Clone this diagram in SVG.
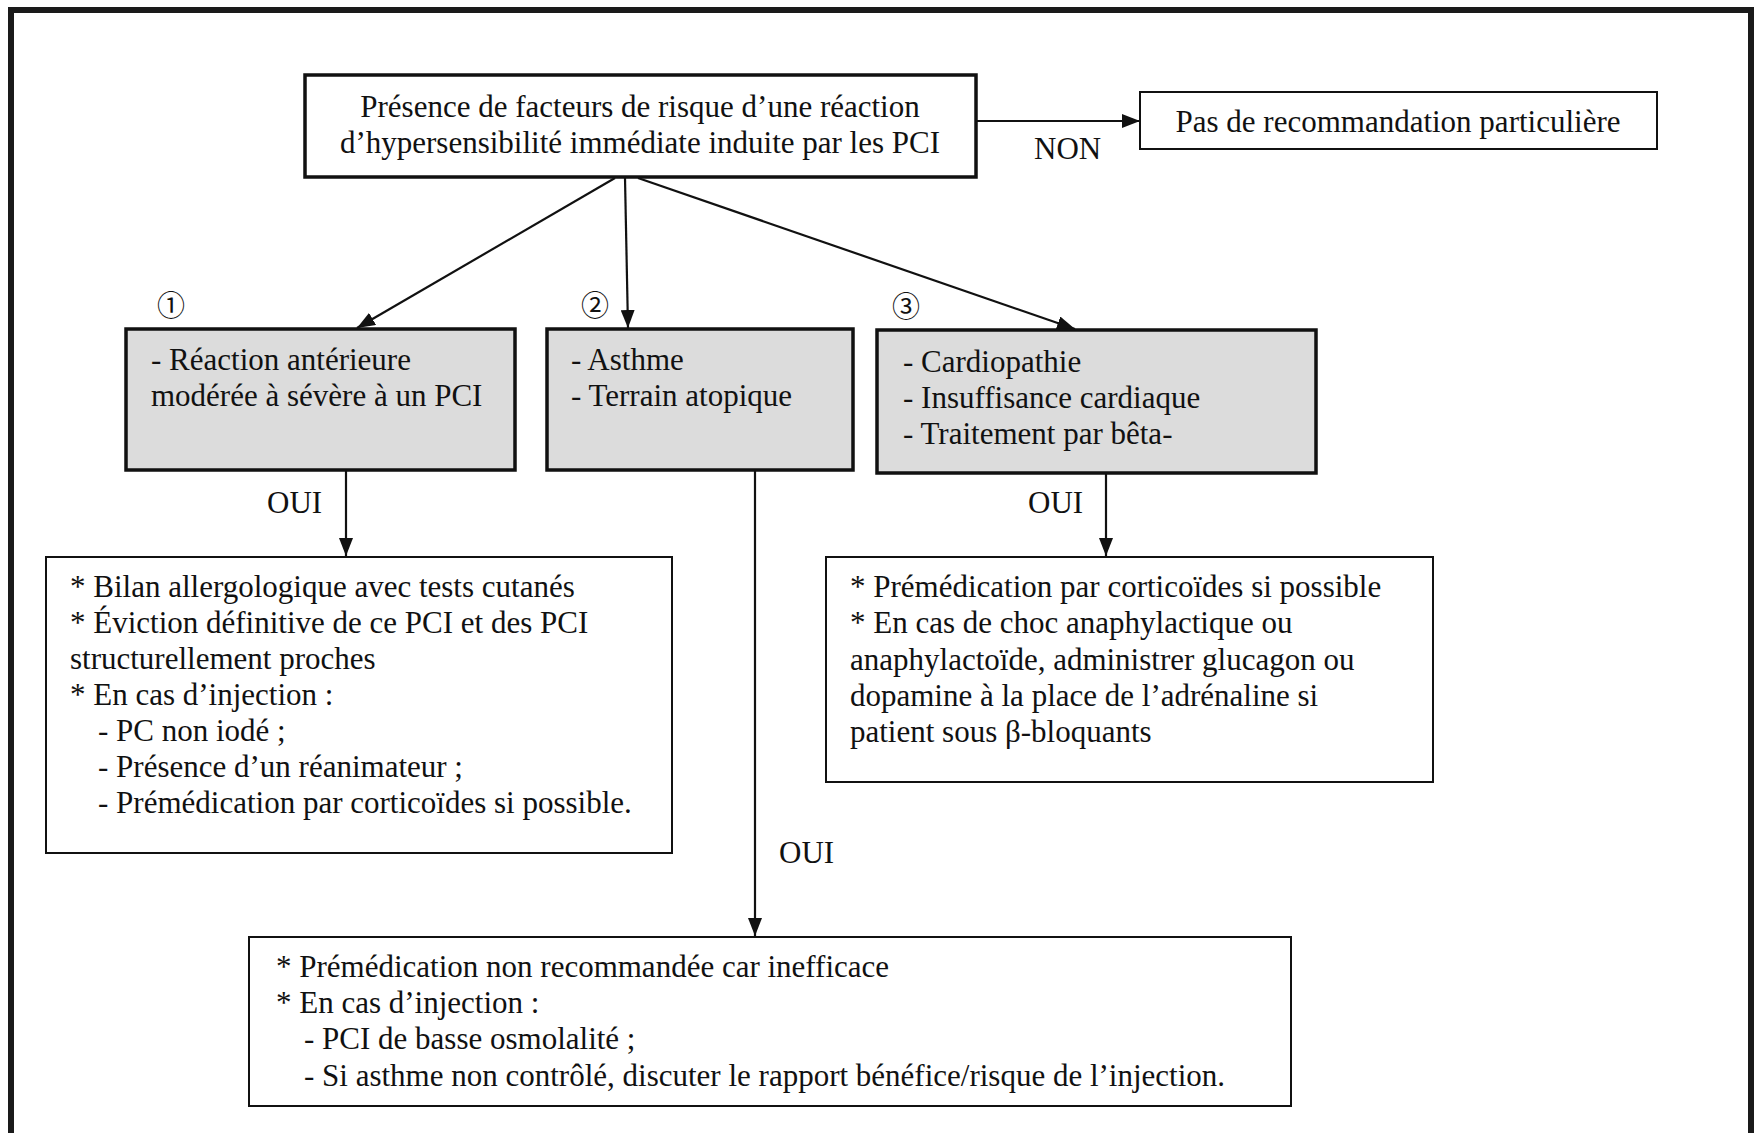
<svg xmlns="http://www.w3.org/2000/svg" width="1760" height="1133" viewBox="0 0 1760 1133">
<defs>
<style>
text{font-family:"Liberation Serif","Times New Roman",serif;font-size:31px;fill:#111}
.num{font-family:"Noto Sans CJK JP","DejaVu Sans",sans-serif;font-size:28px;text-anchor:middle}
.c{text-anchor:middle}
.thick{fill:#fff;stroke:#111;stroke-width:3.5}
.grey{fill:#dcdcdc;stroke:#111;stroke-width:3.5}
.thin{fill:#fff;stroke:#111;stroke-width:2}
.con line{stroke:#111;stroke-width:2.2;marker-end:url(#ah)}
</style>
<marker id="ah" viewBox="0 0 18 14" refX="18" refY="7" markerWidth="18" markerHeight="14" markerUnits="userSpaceOnUse" orient="auto">
<path d="M0,0 L18,7 L0,14 z" fill="#111"/>
</marker>
</defs>
<rect width="1760" height="1133" fill="#fff"/>
<rect x="11" y="10" width="1740" height="1150" fill="none" stroke="#1a1a1a" stroke-width="6"/>

<g class="con" id="connectors">
<line x1="976" y1="121" x2="1140" y2="121"/>
<line x1="615" y1="178" x2="357" y2="328"/>
<line x1="625" y1="178" x2="628" y2="328"/>
<line x1="638" y1="178" x2="1075" y2="329"/>
<line x1="346" y1="471" x2="346" y2="556"/>
<line x1="755" y1="471" x2="755" y2="936"/>
<line x1="1106" y1="474" x2="1106" y2="556"/>
</g>

<g id="labels">
<text x="1034" y="159">NON</text>
<text x="267" y="513">OUI</text>
<text x="1028" y="513">OUI</text>
<text x="779" y="863">OUI</text>
<text class="num" x="171" y="316">①</text>
<text class="num" x="595" y="316">②</text>
<text class="num" x="906" y="317">③</text>
</g>

<g id="top">
<rect class="thick" x="305" y="75" width="671" height="102"/>
<text class="c" x="640" y="117">Présence de facteurs de risque d’une réaction</text>
<text class="c" x="640" y="153">d’hypersensibilité immédiate induite par les PCI</text>
</g>

<g id="non">
<rect class="thin" x="1140" y="92" width="517" height="57"/>
<text class="c" x="1398" y="132">Pas de recommandation particulière</text>
</g>

<g id="b1">
<rect class="grey" x="126" y="329" width="389" height="141"/>
<text x="151" y="370">- Réaction antérieure</text>
<text x="151" y="406">modérée à sévère à un PCI</text>
</g>

<g id="b2">
<rect class="grey" x="547" y="329" width="306" height="141"/>
<text x="571" y="370">- Asthme</text>
<text x="571" y="406">- Terrain atopique</text>
</g>

<g id="b3">
<rect class="grey" x="877" y="330" width="439" height="143"/>
<text x="903" y="372">- Cardiopathie</text>
<text x="903" y="408">- Insuffisance cardiaque</text>
<text x="903" y="444">- Traitement par bêta-</text>
</g>

<g id="r1">
<rect class="thin" x="46" y="557" width="626" height="296"/>
<text x="70" y="597">* Bilan allergologique avec tests cutanés</text>
<text x="70" y="633">* Éviction définitive de ce PCI et des PCI</text>
<text x="70" y="669">structurellement proches</text>
<text x="70" y="705">* En cas d’injection :</text>
<text x="98" y="741">- PC non iodé ;</text>
<text x="98" y="777">- Présence d’un réanimateur ;</text>
<text x="98" y="813">- Prémédication par corticoïdes si possible.</text>
</g>

<g id="r3">
<rect class="thin" x="826" y="557" width="607" height="225"/>
<text x="850" y="597">* Prémédication par corticoïdes si possible</text>
<text x="850" y="633">* En cas de choc anaphylactique ou</text>
<text x="850" y="670">anaphylactoïde, administrer glucagon ou</text>
<text x="850" y="706">dopamine à la place de l’adrénaline si</text>
<text x="850" y="742">patient sous β-bloquants</text>
</g>

<g id="r2">
<rect class="thin" x="249" y="937" width="1042" height="169"/>
<text x="276" y="977">* Prémédication non recommandée car inefficace</text>
<text x="276" y="1013">* En cas d’injection :</text>
<text x="304" y="1049">- PCI de basse osmolalité ;</text>
<text x="304" y="1086">- Si asthme non contrôlé, discuter le rapport bénéfice/risque de l’injection.</text>
</g>
</svg>
